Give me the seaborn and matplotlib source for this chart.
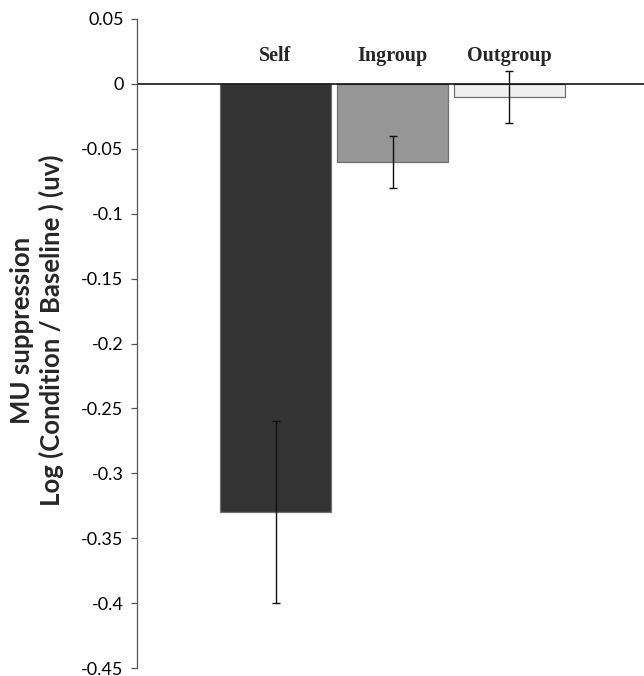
import numpy as np
import pandas as pd
import matplotlib
matplotlib.use("Agg")
import matplotlib.pyplot as plt
import matplotlib.ticker as mticker
import seaborn as sns

# ----------------------------
# Data
# ----------------------------
conditions = ["Self", "Ingroup", "Outgroup"]
means = [-0.33, -0.06, -0.01]
errors = [0.07, 0.02, 0.02]
bar_colors = ["#333333", "#969696", "#efefef"]
y_ticks = [0.05, 0, -0.05, -0.1, -0.15, -0.2, -0.25, -0.3, -0.35, -0.4, -0.45]

df = pd.DataFrame({"condition": conditions, "mean": means})

# ----------------------------
# Plot
# ----------------------------
sns.set_style("white")
plt.rcParams["font.family"] = ["Lato", "DejaVu Sans"]

fig = plt.figure(figsize=(6.44, 6.76), dpi=100)
ax = fig.add_axes([0.2135, 0.0118, 0.7865, 0.9601])

sns.barplot(data=df, x="condition", y="mean", hue="condition",
            palette=bar_colors, width=0.95, edgecolor="#707070",
            linewidth=0.9, errorbar=None, legend=False, ax=ax)

x_pos = np.arange(len(conditions))
ax.errorbar(x_pos, means, yerr=errors, fmt="none", ecolor="#111111",
            elinewidth=1.0, capsize=3, capthick=1.0)

ax.axhline(0, color="black", linewidth=1.1, zorder=1)

# condition names above the bars
for i, name in enumerate(conditions):
    ax.text(x_pos[i], 0.018, name, ha="center", va="baseline",
            fontsize=14.5, fontweight="bold", family="Liberation Serif")

ax.set_xlim(-1.18, 3.15)
ax.set_ylim(-0.45, 0.05)
ax.set_yticks(y_ticks)
ax.yaxis.set_major_formatter(mticker.FuncFormatter(lambda v, p: "%g" % round(v, 2)))
ax.tick_params(axis="y", direction="out", length=4.5, width=0.9, pad=5.5,
               labelsize=13, left=True, colors="#555555", labelcolor="black")
ax.set_xticks([])
ax.set_xlabel("")
ax.set_ylabel("")

for side in ["top", "right", "bottom"]:
    ax.spines[side].set_visible(False)
ax.spines["left"].set_color("#555555")
ax.spines["left"].set_linewidth(0.9)

fig.text(37 / 644, 1 - 330 / 676,
         "MU suppression\nLog (Condition / Baseline ) (uv)",
         rotation=90, ha="center", va="center", multialignment="center",
         fontsize=18.5, fontweight="bold", linespacing=1.25)

fig.savefig("out.png", dpi=100)
